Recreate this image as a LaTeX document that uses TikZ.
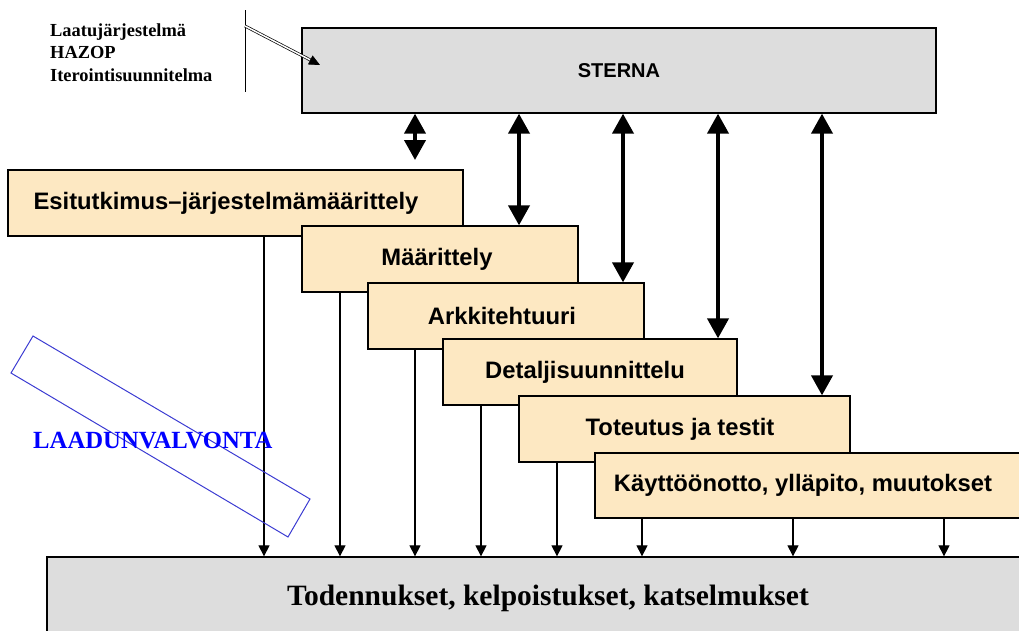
\documentclass[tikz,border=0pt]{standalone}
\usepackage{fontspec}
\setmainfont{Liberation Serif}
\setsansfont{Liberation Sans}
\usetikzlibrary{arrows.meta,calc}
\definecolor{boxfill}{HTML}{FDE8C2}
\definecolor{grayfill}{HTML}{DDDDDD}
\definecolor{qblue}{HTML}{3C3CD2}
\begin{document}
\begin{tikzpicture}[x=1pt,y=-1pt,
  phase/.style={draw=black, line width=1.3pt, fill=boxfill, inner sep=0pt,
    minimum height=66pt, font=\sffamily\bfseries\fontsize{23.8}{28}\selectfont},
  graybox/.style={draw=black, line width=1.3pt, fill=grayfill, inner sep=0pt},
  bigarrow/.style={line width=4pt,
    {Triangle[length=20pt,width=21pt]}-{Triangle[length=20pt,width=21pt]}},
  thinarrow/.style={line width=1.1pt, -{Triangle[length=11pt,width=11pt]}},
  sidetext/.style={anchor=base west, inner sep=0pt, font=\bfseries\fontsize{18.4}{22}\selectfont}
]
\useasboundingbox (0,0) rectangle (1019,630);
\clip (0,0) rectangle (1019,630);

% STERNA
\node[graybox, minimum width=634pt, minimum height=85pt,
  font=\sffamily\bfseries\fontsize{20}{24}\selectfont] (sterna) at (619,70.5) {STERNA};

% phases
\node[phase, minimum width=455pt] (e) at (235.5,203) {Esitutkimus–järjestelmämäärittely\hspace*{19pt}};
\node[phase, minimum width=276pt] (m) at (440,259) {Määrittely\hspace*{6pt}};
\node[phase, minimum width=276pt] (a) at (506,316) {Arkkitehtuuri\hspace*{8pt}};
\node[phase, minimum width=294pt] (d) at (590,372) {Detaljisuunnittelu\hspace*{10pt}};
\node[phase, minimum width=331pt] (t) at (684.5,429) {Toteutus ja testit\hspace*{9pt}};
\node[phase, minimum width=435pt, minimum height=65pt] (k) at (812.5,485.5) {Käyttöönotto, ylläpito, muutokset\hspace*{19pt}};

% bottom box
\node[graybox, minimum width=983pt, minimum height=83pt,
  font=\bfseries\fontsize{29.5}{34}\selectfont] (v) at (538.5,598.5) {\hspace*{19pt}Todennukset, kelpoistukset, katselmukset};

% x positions
\coordinate (x1) at (415,0);
\coordinate (x2) at (519,0);
\coordinate (x3) at (623,0);
\coordinate (x4) at (718,0);
\coordinate (x5) at (822,0);
\coordinate (c1) at (415,160);

% STERNA arrows
\draw[bigarrow] (sterna.south -| x1) -- (c1);
\draw[bigarrow] (sterna.south -| x2) -- (m.north -| x2);
\draw[bigarrow] (sterna.south -| x3) -- (a.north -| x3);
\draw[bigarrow] (sterna.south -| x4) -- (d.north -| x4);
\draw[bigarrow] (sterna.south -| x5) -- (t.north -| x5);

% thin arrows
\coordinate (t1) at (264,0);
\coordinate (t2) at (340,0);
\coordinate (t3) at (415,0);
\coordinate (t4) at (481,0);
\coordinate (t5) at (557,0);
\coordinate (t6) at (642,0);
\coordinate (t7) at (793,0);
\coordinate (t8) at (944,0);
\draw[thinarrow] (e.south -| t1) -- (v.north -| t1);
\draw[thinarrow] (m.south -| t2) -- (v.north -| t2);
\draw[thinarrow] (a.south -| t3) -- (v.north -| t3);
\draw[thinarrow] (d.south -| t4) -- (v.north -| t4);
\draw[thinarrow] (t.south -| t5) -- (v.north -| t5);
\draw[thinarrow] (k.south -| t6) -- (v.north -| t6);
\draw[thinarrow] (k.south -| t7) -- (v.north -| t7);
\draw[thinarrow] (k.south -| t8) -- (v.north -| t8);

% quality control band
\draw[qblue, line width=1pt] (33,336) -- (11,373) -- (288,537) -- (310,499) -- cycle;
\node[anchor=base west, inner sep=0pt, text=blue,
  font=\bfseries\fontsize{24.7}{28}\selectfont] (qc) at (33,448) {LAADUNVALVONTA};

% side texts
\node[sidetext] (s1) at (50,36.7) {Laatujärjestelmä};
\node[sidetext] (s2) at (50,58.3) {HAZOP};
\node[sidetext] (s3) at (50,81) {Iterointisuunnitelma};

\coordinate (vtop) at (245,10);
\coordinate (vbot) at (245,92);
\draw[line width=1pt] (vtop) -- (vbot);
\coordinate (ds) at (245,26);
\coordinate (dt) at (320,65);
\coordinate (dm) at ($(dt)!11pt!(ds)$);
\draw[double, double distance=1.5pt, line width=0.7pt] (ds) -- (dm);
\draw[line width=0.7pt, -{Triangle[length=11pt,width=10pt]}] (dm) -- (dt);
\end{tikzpicture}
\end{document}
